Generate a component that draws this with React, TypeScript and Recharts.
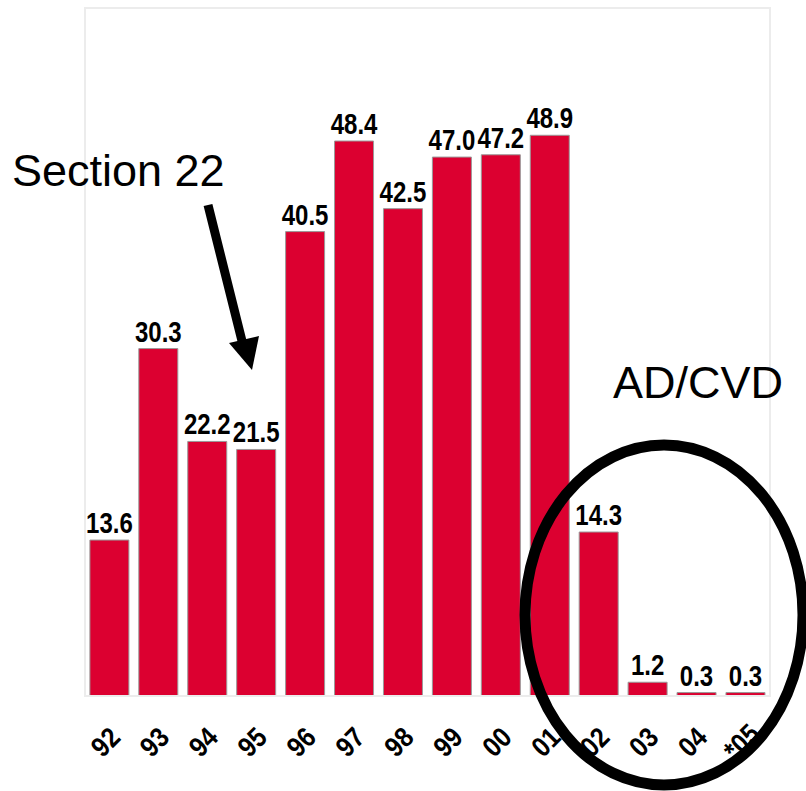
import React from 'react';
import { BarChart, Bar, XAxis, YAxis, LabelList } from 'recharts';

const years = ['92', '93', '94', '95', '96', '97', '98', '99', '00', '01', '02', '03', '04', '*05'];
const amounts = [13.6, 30.3, 22.2, 21.5, 40.5, 48.4, 42.5, 47.0, 47.2, 48.9, 14.3, 1.2, 0.3, 0.3];

const data = years.map((year, i) => ({ year, amount: amounts[i] }));

const SANS = '"Liberation Sans", Arial, sans-serif';

// no narrow font installed, so squeeze Liberation Sans Bold horizontally
const YearTick = ({ x, y, payload }: any) => (
  <text
    transform={`translate(${x - 4},${y + 38}) rotate(-45) scale(0.88,1)`}
    textAnchor="middle"
    dominantBaseline="central"
    fontFamily={SANS}
    fontWeight="bold"
    fontSize={28}
    fill="#000"
  >
    {payload.value}
  </text>
);

const ValueLabel = ({ x, y, width, value }: any) => (
  <text
    transform={`translate(${x + width / 2},${y - 7}) scale(0.8,1)`}
    textAnchor="middle"
    fontFamily={SANS}
    fontWeight="bold"
    fontSize={30}
    fill="#000"
  >
    {Number(value).toFixed(1)}
  </text>
);

const App = () => {
  return (
    <div style={{ position: 'absolute', left: 0, top: 0, width: 806, height: 791, background: '#fff' }}>
      <BarChart
        width={806}
        height={791}
        data={data}
        margin={{ top: 8, right: 36, left: 85, bottom: 5 }}
        barCategoryGap="10%"
      >
        <XAxis
          dataKey="year"
          height={90}
          tickLine={false}
          axisLine={{ stroke: '#e8e8e8', strokeWidth: 2 }}
          interval={0}
          tick={<YearTick />}
        />
        <YAxis hide domain={[0, 60]} />
        <Bar dataKey="amount" fill="#dc0030" stroke="#9a9a9a" strokeWidth={1} isAnimationActive={false}>
          <LabelList dataKey="amount" content={<ValueLabel />} />
        </Bar>
      </BarChart>
      <svg
        width={806}
        height={791}
        style={{ position: 'absolute', left: 0, top: 0, pointerEvents: 'none' }}
      >
        {/* light frame around plot area */}
        <rect x={85} y={8} width={685} height={688} fill="none" stroke="#ececec" strokeWidth={2} />
        <text x={12} y={186} fontFamily={SANS} fontSize={45} fill="#000">
          Section 22
        </text>
        <line x1={208} y1={205} x2={243} y2={345} stroke="#000" strokeWidth={9} />
        <polygon points="229,343 259,336 252,370" fill="#000" />
        <text x={613} y={398} fontFamily={SANS} fontSize={45} fill="#000">
          AD/CVD
        </text>
        <ellipse cx={664} cy={615} rx={139} ry={170} fill="none" stroke="#000" strokeWidth={11} />
      </svg>
    </div>
  );
};

export default App;
